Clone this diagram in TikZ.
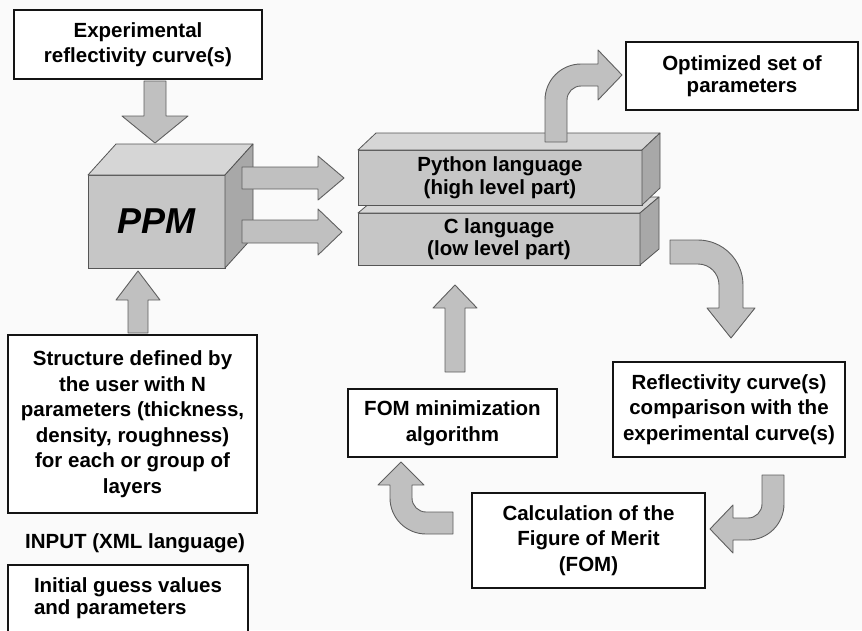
\documentclass[tikz,border=0pt]{standalone}
\usepackage{fontspec}
\setmainfont{Liberation Sans}
\usetikzlibrary{positioning,calc}
\definecolor{flowedge}{RGB}{20,20,20}
\definecolor{flowbg}{RGB}{250,250,250}
\definecolor{facefront}{RGB}{198,198,198}
\definecolor{facetop}{RGB}{214,214,214}
\definecolor{faceside}{RGB}{168,168,168}
\definecolor{faceedge}{RGB}{85,85,85}
\definecolor{fatfill}{RGB}{192,192,192}
\definecolor{fatedge}{RGB}{95,95,95}
\tikzset{
  txtbox/.style={
    draw=flowedge, fill=white, line width=2.6pt, align=center,
    inner sep=0pt, outer sep=0pt, font=\fontsize{20.5}{25.5}\selectfont\bfseries
  },
  tightbox/.style={txtbox, font=\fontsize{20.5}{22}\selectfont\bfseries},
  front/.style={
    draw=faceedge, fill=facefront, line width=0.8pt, align=center,
    inner sep=0pt, outer sep=0pt, font=\fontsize{20.5}{22.5}\selectfont\bfseries
  },
  topface/.style={draw=faceedge, fill=facetop, line width=0.8pt, line join=round},
  sideface/.style={draw=faceedge, fill=faceside, line width=0.8pt, line join=round},
  fat/.style={draw=fatedge, fill=fatfill, line width=0.9pt, line join=round},
  plain/.style={align=center, inner sep=0pt, font=\fontsize{20.5}{25.5}\selectfont\bfseries}
}
\begin{document}
\begin{tikzpicture}[x=1pt, y=-1pt]
  \clip (0,0) rectangle (862,630);
  \fill[flowbg] (0,0) rectangle (862,630);

  % input side
  \node[txtbox, minimum width=248pt, minimum height=69pt] (exp) at (138,44.5)
    {Experimental\\reflectivity curve(s)};
  \node[txtbox, minimum width=249pt, minimum height=178pt] (struct) at (132.5,424)
    {Structure defined by\\the user with N\\parameters (thickness,\\density, roughness)\\for each or group of\\layers};
  \node[plain] (inp) at (135,543) {INPUT (XML language)};
  \node[tightbox, minimum width=240pt, minimum height=67pt, align=left] (init) at (128,598.5)
    {Initial guess values\\and parameters};

  % PPM block
  \node[front, minimum width=137pt, minimum height=93pt,
    font=\fontsize{36}{40}\selectfont\bfseries\itshape] (ppm) at (156.5,221.5) {PPM};
  \draw[topface] (ppm.north west) -- ++(28,-31) -- ($(ppm.north east)+(28,-31)$)
    -- (ppm.north east) -- cycle;
  \draw[sideface] (ppm.north east) -- ++(28,-31) -- ($(ppm.south east)+(28,-31)$)
    -- (ppm.south east) -- cycle;

  % two language layers
  \node[front, minimum width=282pt, minimum height=52pt] (clang) at (499,239)
    {C language\\(low level part)};
  \draw[topface] (clang.north west) -- ++(19,-16) -- ($(clang.north east)+(19,-16)$)
    -- (clang.north east) -- cycle;
  \draw[sideface] (clang.north east) -- ++(19,-16) -- ($(clang.south east)+(19,-16)$)
    -- (clang.south east) -- cycle;
  \node[front, minimum width=284pt, minimum height=55pt] (pylang) at (500,177.5)
    {Python language\\(high level part)};
  \draw[topface] (pylang.north west) -- ++(18,-17) -- ($(pylang.north east)+(18,-17)$)
    -- (pylang.north east) -- cycle;
  \draw[sideface] (pylang.north east) -- ++(18,-17) -- ($(pylang.south east)+(18,-17)$)
    -- (pylang.south east) -- cycle;

  % loop boxes
  \node[tightbox, minimum width=232pt, minimum height=68pt] (opt) at (742,76)
    {Optimized set of\\parameters};
  \node[txtbox, minimum width=232pt, minimum height=95pt] (refl) at (729,409.5)
    {Reflectivity curve(s)\\comparison with the\\experimental curve(s)};
  \node[txtbox, minimum width=233pt, minimum height=95pt] (calcfom) at (588.5,540.5)
    {Calculation of the\\Figure of Merit\\(FOM)};
  \node[txtbox, minimum width=209pt, minimum height=68pt] (fommin) at (452.5,423)
    {FOM minimization\\algorithm};

  % straight block arrows
  \draw[fat] (144,81) -- (166,81) -- (166,116) -- (188,116) -- (155,143)
    -- (122,116) -- (144,116) -- cycle;
  \draw[fat] (242,167) -- (318,167) -- (318,156) -- (344,178) -- (318,200)
    -- (318,189) -- (242,189) -- cycle;
  \draw[fat] (242,220) -- (318,220) -- (318,209) -- (342,232) -- (318,255)
    -- (318,243) -- (242,243) -- cycle;
  \draw[fat] (128,333) -- (128,300) -- (116,300) -- (138,271) -- (160,300)
    -- (148,300) -- (148,333) -- cycle;
  \draw[fat] (445,372) -- (445,308) -- (433,308) -- (455,285) -- (477,308)
    -- (465,308) -- (465,372) -- cycle;

  % bent block arrows
  \draw[fat] (545,142) -- (545,100) .. controls (545,80.1) and (561.1,64) .. (581,64)
    -- (598,64) -- (598,50) -- (622,75) -- (598,100) -- (598,86) -- (581,86)
    .. controls (573.3,86) and (567,92.3) .. (567,100) -- (567,142) -- cycle;
  \draw[fat] (670,240) -- (698,240) .. controls (722.8,240) and (743,260.2) .. (743,285)
    -- (743,308) -- (755,308) -- (731,338) -- (707,308) -- (719,308) -- (719,285)
    .. controls (719,273.4) and (709.6,264) .. (698,264) -- (670,264) -- cycle;
  \draw[fat] (784,475) -- (784,504) .. controls (784,523.9) and (767.9,540) .. (748,540)
    -- (733,540) -- (733,553) -- (710,529) -- (733,505) -- (733,518) -- (748,518)
    .. controls (755.7,518) and (762,511.7) .. (762,504) -- (762,475) -- cycle;
  \draw[fat] (453,534) -- (426,534) .. controls (406.1,534) and (390,517.9) .. (390,498)
    -- (390,485) -- (378,485) -- (401,462) -- (424,485) -- (412,485) -- (412,498)
    .. controls (412,505.7) and (418.3,512) .. (426,512) -- (453,512) -- cycle;
\end{tikzpicture}
\end{document}
